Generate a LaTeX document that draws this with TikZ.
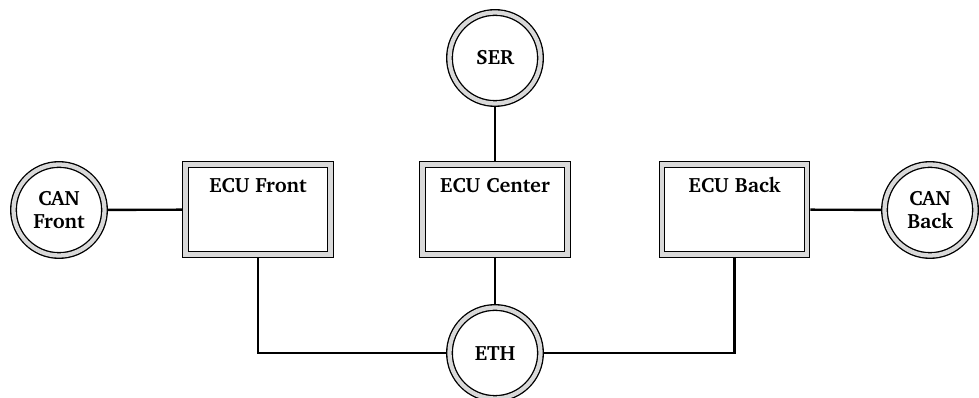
\documentclass[tikz,border=0pt]{standalone}
\usepackage[T1]{fontenc}
\usepackage{charter}
\definecolor{bandgray}{RGB}{217,217,217}
\tikzset{
  x=0.75pt, y=-0.75pt,
  dbl/.style={draw=black, line width=1pt, double=bandgray, double distance=3.2pt, outer sep=2.6pt, fill=white},
  ecu/.style={dbl, rectangle, minimum width=145*0.75pt, minimum height=90*0.75pt, inner sep=0pt},
  bus/.style={dbl, circle, minimum size=91*0.75pt, inner sep=0pt, align=center, font=\fontsize{15.5}{17.6}\selectfont\bfseries},
  boxtext/.style={anchor=base, yshift=-31*0.75pt, inner sep=0pt, font=\fontsize{15.5}{17.6}\selectfont\bfseries},
  wire/.style={draw=black, line width=1.8pt},
}
\begin{document}
\begin{tikzpicture}
\useasboundingbox (0,0) rectangle (979,398);
\node[ecu, label={[boxtext]north:ECU Front}] (ecuF) at (258,209.5) {};
\node[ecu, label={[boxtext]north:ECU Center}] (ecuC) at (495,209.5) {};
\node[ecu, label={[boxtext]north:ECU Back}] (ecuB) at (734.5,209.5) {};
\node[bus] (canF) at (59,210) {CAN\\Front};
\node[bus] (canB) at (930,210) {CAN\\Back};
\node[bus] (ser) at (495,58) {SER};
\node[bus] (eth) at (495,353) {ETH};
\draw[wire] (canF) -- (ecuF);
\draw[wire] (ecuB) -- (canB);
\draw[wire] (ser) -- (ecuC);
\draw[wire] (ecuC) -- (eth);
\draw[wire] (ecuF.south) |- (eth.west);
\draw[wire] (ecuB.south) |- (eth.east);
\end{tikzpicture}
\end{document}
